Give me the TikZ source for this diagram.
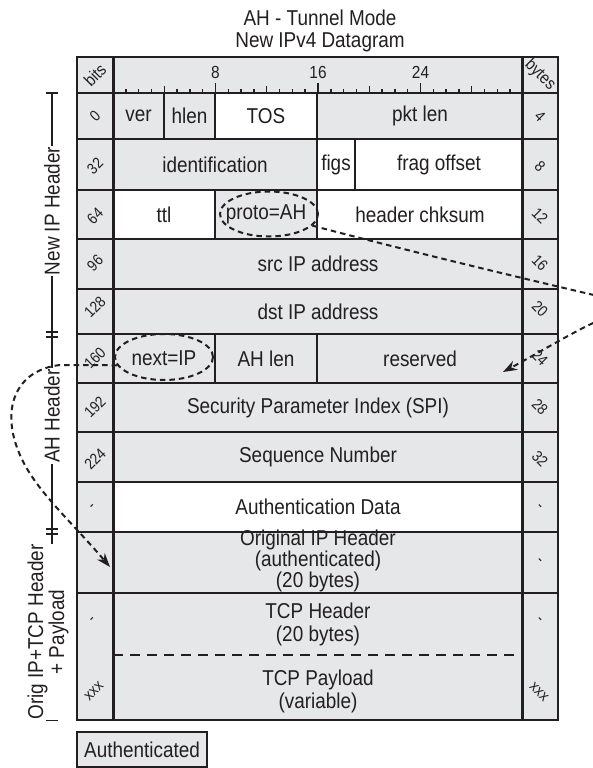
\documentclass[tikz,border=0pt]{standalone}
\usepackage{fontspec}
\setmainfont{Liberation Sans}[FakeStretch=0.88]
\usetikzlibrary{shapes.geometric,arrows.meta}
\definecolor{lc}{RGB}{35,31,32}
\definecolor{gf}{RGB}{230,231,232}
\newcommand\mainsz{\fontsize{21.5}{23}\selectfont}
\newcommand\tightsz{\fontsize{21.5}{18}\selectfont}
\newcommand\smsz{\fontsize{15.5}{17}\selectfont}
\newcommand\hdsz{\fontsize{17}{19}\selectfont}
\newcommand\rulsz{\fontsize{17.5}{19}\selectfont}
% #1 style, #2 name, #3 x1, #4 y1, #5 x2, #6 y2, #7 text
\newcommand\pcell[7]{\node[#1, minimum width={(#5-#3)*1pt}, minimum height={(#6-#4)*1pt}] (#2) at ({(#3+#5)/2},{(#4+#6)/2}) {#7};}
\begin{document}
\begin{tikzpicture}[x=1pt,y=-1pt,
  gcell/.style={draw=lc, fill=gf, line width=2pt, inner sep=0pt, text=lc, font=\mainsz, align=center},
  wcell/.style={gcell, fill=white},
  txt/.style={inner sep=0pt, text=lc, font=\mainsz, align=center},
  lnum/.style={inner sep=0pt, text=lc, font=\smsz, rotate=45},
  rnum/.style={inner sep=0pt, text=lc, font=\smsz, rotate=-45},
  side/.style={inner sep=1pt, fill=white, text=lc, font=\mainsz, rotate=90, align=center},
  brace/.style={draw=lc, line width=2pt},
  dline/.style={draw=lc, line width=2pt, dash pattern=on 5.5pt off 4pt},
  ring/.style={ellipse, draw=lc, line width=2pt, dash pattern=on 5.5pt off 4pt, inner sep=0pt},
  tip/.style={-{Stealth[length=14pt,width=10pt]}}]
\useasboundingbox (0,0) rectangle (593,768);

% title
\node[txt] (t1) at (320,18) {AH - Tunnel Mode};
\node[txt] (t2) at (320,42) {New IPv4 Datagram};

% header row
\pcell{gcell}{hbits}{77}{57}{113}{93}{}
\pcell{gcell}{hruler}{113}{57}{523}{93}{}
\pcell{gcell}{hbytes}{523}{57}{558}{93}{}
\node[inner sep=0pt, text=lc, font=\hdsz, rotate=45] (bitslbl) at (95,75) {bits};
\node[inner sep=0pt, text=lc, font=\hdsz, rotate=-45] (byteslbl) at (540,75) {bytes};
\foreach \i in {1,...,31} {
  \pgfmathsetmacro\tx{113+\i*12.8125}
  \pgfmathsetmacro\th{mod(\i,8)==0 ? 10 : (mod(\i,4)==0 ? 7 : 4.5)}
  \draw[draw=lc, line width=1.4pt] (\tx,93) -- (\tx,{93-\th});
}
\node[inner sep=0pt, text=lc, font=\rulsz] (r8) at (215.5,72) {8};
\node[inner sep=0pt, text=lc, font=\rulsz] (r16) at (318,72) {16};
\node[inner sep=0pt, text=lc, font=\rulsz] (r24) at (420.5,72) {24};

% row 0
\pcell{gcell}{ver}{113}{93}{164}{139}{ver}
\pcell{gcell}{hlen}{164}{93}{215}{139}{hlen}
\pcell{wcell}{tos}{215}{93}{317}{139}{TOS}
\pcell{gcell}{pktlen}{317}{93}{523}{139}{pkt len}
% row 32
\pcell{gcell}{ident}{113}{139}{317}{190}{identification}
\pcell{wcell}{flgs}{317}{139}{355}{190}{figs}
\pcell{wcell}{fragoff}{355}{139}{523}{190}{frag offset}
% row 64
\pcell{wcell}{ttl}{113}{190}{215}{239}{ttl}
\pcell{gcell}{proto}{215}{190}{317}{239}{proto=AH}
\pcell{wcell}{chksum}{317}{190}{523}{239}{header chksum}
% row 96, 128
\pcell{gcell}{src}{113}{239}{523}{289}{src IP address}
\pcell{gcell}{dst}{113}{289}{523}{334}{dst IP address}
% row 160
\pcell{gcell}{nextip}{113}{334}{215}{383}{next=IP}
\pcell{gcell}{ahlen}{215}{334}{317}{383}{AH len}
\pcell{gcell}{reserved}{317}{334}{523}{383}{reserved}
% row 192, 224
\pcell{gcell}{spi}{113}{383}{523}{432}{Security Parameter Index (SPI)}
\pcell{gcell}{seq}{113}{432}{523}{482}{Sequence Number}
\pcell{wcell}{authdata}{113}{482}{523}{532}{Authentication Data}
\pcell{gcell}{origip}{113}{532}{523}{593}{}
\node[txt, font=\tightsz] (origtxt) at (318,561) {Original IP Header\\(authenticated)\\(20 bytes)};
\pcell{gcell}{tcpall}{113}{593}{523}{720}{}
\node[txt] (tcph) at (318,624) {TCP Header\\(20 bytes)};
\node[txt] (tcpp) at (318,691) {TCP Payload\\(variable)};
\coordinate (dl1) at (113,655);
\coordinate (dl2) at (523,655);
\draw[draw=lc, line width=2pt, dash pattern=on 10pt off 7pt] (dl1) -- (dl2);

% bits column
\pcell{gcell}{b0}{77}{93}{113}{139}{}
\pcell{gcell}{b1}{77}{139}{113}{190}{}
\pcell{gcell}{b2}{77}{190}{113}{239}{}
\pcell{gcell}{b3}{77}{239}{113}{289}{}
\pcell{gcell}{b4}{77}{289}{113}{334}{}
\pcell{gcell}{b5}{77}{334}{113}{383}{}
\pcell{gcell}{b6}{77}{383}{113}{432}{}
\pcell{gcell}{b7}{77}{432}{113}{482}{}
\pcell{gcell}{b8}{77}{482}{113}{532}{}
\pcell{gcell}{b9}{77}{532}{113}{593}{}
\pcell{gcell}{b10}{77}{593}{113}{720}{}
% bytes column
\pcell{gcell}{y0}{523}{93}{558}{139}{}
\pcell{gcell}{y1}{523}{139}{558}{190}{}
\pcell{gcell}{y2}{523}{190}{558}{239}{}
\pcell{gcell}{y3}{523}{239}{558}{289}{}
\pcell{gcell}{y4}{523}{289}{558}{334}{}
\pcell{gcell}{y5}{523}{334}{558}{383}{}
\pcell{gcell}{y6}{523}{383}{558}{432}{}
\pcell{gcell}{y7}{523}{432}{558}{482}{}
\pcell{gcell}{y8}{523}{482}{558}{532}{}
\pcell{gcell}{y9}{523}{532}{558}{593}{}
\pcell{gcell}{y10}{523}{593}{558}{720}{}

% bit numbers
\node[lnum] (n0) at (95,116) {0};
\node[lnum] (n32) at (95,166) {32};
\node[lnum] (n64) at (95,216) {64};
\node[lnum] (n96) at (95,263) {96};
\node[lnum] (n128) at (95,307) {128};
\node[lnum] (n160) at (95,358) {160};
\node[lnum] (n192) at (95,407) {192};
\node[lnum] (n224) at (95,459) {224};
\node[lnum] (nd1) at (93,507) {-};
\node[lnum] (nd3) at (93,620) {-};
\node[lnum] (nx) at (94,691) {xxx};
% byte numbers
\node[rnum] (m4) at (540,116) {4};
\node[rnum] (m8) at (540,166) {8};
\node[rnum] (m12) at (540,216) {12};
\node[rnum] (m16) at (540,263) {16};
\node[rnum] (m20) at (540,309) {20};
\node[rnum] (m24) at (540,358) {24};
\node[rnum] (m28) at (540,407) {28};
\node[rnum] (m32) at (540,459) {32};
\node[rnum] (md1) at (539,507) {-};
\node[rnum] (md2) at (539,561) {-};
\node[rnum] (md3) at (539,620) {-};
\node[rnum] (mx) at (539,692) {xxx};

% column lines (heavier)
\draw[draw=lc, line width=2.5pt] (77,57) rectangle (558,720);
\draw[draw=lc, line width=2.5pt] (hbits.north east) -- (b10.south east);
\draw[draw=lc, line width=2.5pt] (hbytes.north west) -- (y10.south west);

% left side brackets
\coordinate (bt) at (52,93);
\coordinate (bb) at (52,720);
\draw[brace] (bt) -- (bb);
\draw[brace] (46,93) -- (58,93);
\draw[brace] (46,332) -- (58,332);
\draw[brace] (46,337) -- (58,337);
\draw[brace] (46,529) -- (58,529);
\draw[brace] (46,534) -- (58,534);
\draw[brace] (46,720) -- (58,720);
\node[side] (lnew) at (52,211) {New IP Header};
\node[side] (lah) at (52,416) {AH Header};
\node[side, inner sep=0pt, font=\fontsize{21.5}{20}\selectfont] (lorig) at (48,632) {Orig IP+TCP Header\\+ Payload};

% Authenticated legend
\pcell{gcell}{legend}{77}{732}{207}{767}{Authenticated}

% dashed rings and arrows
\node[ring, minimum width=98pt, minimum height=45pt] (ring1) at (269,214) {};
\node[ring, minimum width=98pt, minimum height=46pt] (ring2) at (164,357) {};
\coordinate (tip1) at (503,372);
\coordinate (tip2) at (110,567);
\draw[dline, tip] (ring1.-15) .. controls (420,254) and (530,280) .. (598,296)
  .. controls (618,301) and (620,312) .. (600,320)
  .. controls (580,328) and (540,352) .. (tip1);
\draw[dline, tip] (ring2.190) -- (60,365) .. controls (15,370) and (0,410) .. (20,455)
  .. controls (35,490) and (70,520) .. (tip2);
\end{tikzpicture}
\end{document}
